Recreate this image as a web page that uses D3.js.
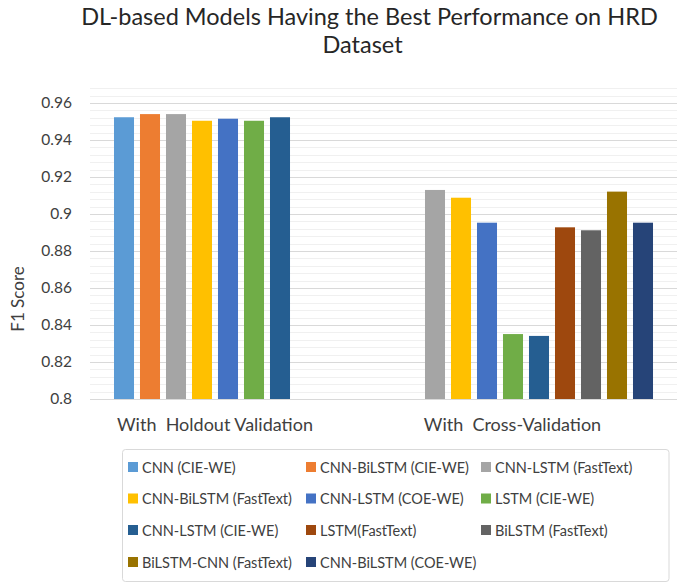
<!DOCTYPE html>
<html>
<head>
<meta charset="utf-8">
<script src="https://cdn.jsdelivr.net/npm/d3@7"></script>
<style>
  html, body { margin: 0; padding: 0; background: #fff; }
  svg { display: block; font-family: Lato, "Open Sans", sans-serif; }
</style>
</head>
<body>
<svg id="chart" width="685" height="585"></svg>
<script>
const categories = ["With  Holdout Validation", "With  Cross-Validation"];
const seriesNames = [
  "CNN (CIE-WE)", "CNN-BiLSTM (CIE-WE)", "CNN-LSTM (FastText)",
  "CNN-BiLSTM (FastText)", "CNN-LSTM (COE-WE)", "LSTM (CIE-WE)",
  "CNN-LSTM (CIE-WE)", "LSTM(FastText)", "BiLSTM (FastText)",
  "BiLSTM-CNN (FastText)", "CNN-BiLSTM (COE-WE)"
];
const seriesColors = [
  "#5B9BD5", "#ED7D31", "#A5A5A5", "#FFC000", "#4472C4", "#70AD47",
  "#255E91", "#9E480E", "#636363", "#997300", "#264478"
];
// values per series: [Holdout, Cross-Validation]; null = no bar
const holdoutValues = [0.9523, 0.9540, 0.9540, 0.9504, 0.9515, 0.9504, 0.9523, null, null, null, null];
const crossValues   = [null, null, 0.9130, 0.9088, 0.8953, 0.8351, 0.8341, 0.8928, 0.8912, 0.9121, 0.8953];
const yTicks = [0.8, 0.82, 0.84, 0.86, 0.88, 0.9, 0.92, 0.94, 0.96];
const yTickLabels = ["0.8", "0.82", "0.84", "0.86", "0.88", "0.9", "0.92", "0.94", "0.96"];

const svg = d3.select("#chart");
const plotLeft = 90, plotRight = 677, plotTop = 84.5, plotBottom = 399;

const y = d3.scaleLinear().domain([0.8, 0.97]).range([plotBottom, plotTop]);

// group start positions and in-group slot scale
const x0 = d3.scalePoint().domain(categories).range([111, 370]);
const x1 = d3.scaleBand().domain(seriesNames).range([0, 286]).paddingInner(0.23).paddingOuter(0.115);
const xLabel = d3.scalePoint().domain(categories).range([215, 512.5]);

// minor gridlines
const minor = d3.range(0, 43).map(i => 0.8 + i * 0.004).filter(v => v <= 0.9685);
svg.append("g").selectAll("line").data(minor).join("line")
  .attr("x1", plotLeft).attr("x2", plotRight)
  .attr("y1", d => Math.round(y(d)) + 0.5).attr("y2", d => Math.round(y(d)) + 0.5)
  .attr("stroke", "#f0f0f0").attr("stroke-width", 1);

// major gridlines
svg.append("g").selectAll("line").data(yTicks).join("line")
  .attr("x1", plotLeft).attr("x2", plotRight)
  .attr("y1", d => Math.round(y(d)) + 0.5).attr("y2", d => Math.round(y(d)) + 0.5)
  .attr("stroke", "#d9d9d9").attr("stroke-width", 1);

// y axis labels
const yAxis = d3.axisLeft(y).tickValues(yTicks).tickSize(0).tickPadding(0)
  .tickFormat((d, i) => yTickLabels[i]);
const ya = svg.append("g").attr("transform", `translate(72,0)`).call(yAxis);
ya.select(".domain").remove();
ya.selectAll("text").attr("fill", "#404040").style("font-size", "15.5px")
  .style("font-family", "Lato, sans-serif");

// bars
const rows = [];
seriesNames.forEach((s, i) => {
  if (holdoutValues[i] != null) rows.push({cat: categories[0], s, i, v: holdoutValues[i]});
  if (crossValues[i] != null) rows.push({cat: categories[1], s, i, v: crossValues[i]});
});
svg.append("g").selectAll("rect").data(rows).join("rect")
  .attr("x", d => x0(d.cat) + x1(d.s))
  .attr("width", x1.bandwidth())
  .attr("y", d => y(d.v))
  .attr("height", d => y(0.8) - y(d.v))
  .attr("fill", d => seriesColors[d.i]);

// category labels
svg.append("g").selectAll("text").data(categories).join("text")
  .attr("x", d => xLabel(d)).attr("y", 431)
  .attr("text-anchor", "middle").attr("fill", "#404040")
  .style("font-size", "18px").style("white-space", "pre")
  .attr("xml:space", "preserve")
  .text(d => d);

// y axis title
svg.append("text")
  .attr("transform", "translate(24,299) rotate(-90)")
  .attr("text-anchor", "middle").attr("fill", "#404040")
  .style("font-size", "17px").text("F1 Score");

// title
const title = svg.append("text").attr("text-anchor", "middle").attr("fill", "#262626")
  .style("font-size", "23.5px");
title.append("tspan").attr("x", 369.5).attr("y", 25).text("DL-based Models Having the Best Performance on HRD");
title.append("tspan").attr("x", 362.5).attr("y", 53).text("Dataset");

// legend
svg.append("rect").attr("x", 122.5).attr("y", 449.5).attr("width", 546.5).attr("height", 132)
  .attr("rx", 3).attr("fill", "#fff").attr("stroke", "#d9d9d9");
const colX = [128, 306, 481];
const rowY = [467, 498.5, 530, 562];
const lg = svg.append("g").selectAll("g").data(seriesNames).join("g")
  .attr("transform", (d, i) => `translate(${colX[i % 3]},${rowY[Math.floor(i / 3)]})`);
lg.append("rect").attr("x", 0).attr("y", -5).attr("width", 10).attr("height", 10)
  .attr("fill", (d, i) => seriesColors[i]);
lg.append("text").attr("x", 14).attr("y", 5.5).attr("fill", "#404040")
  .style("font-size", "14.5px").text(d => d);
</script>
</body>
</html>
